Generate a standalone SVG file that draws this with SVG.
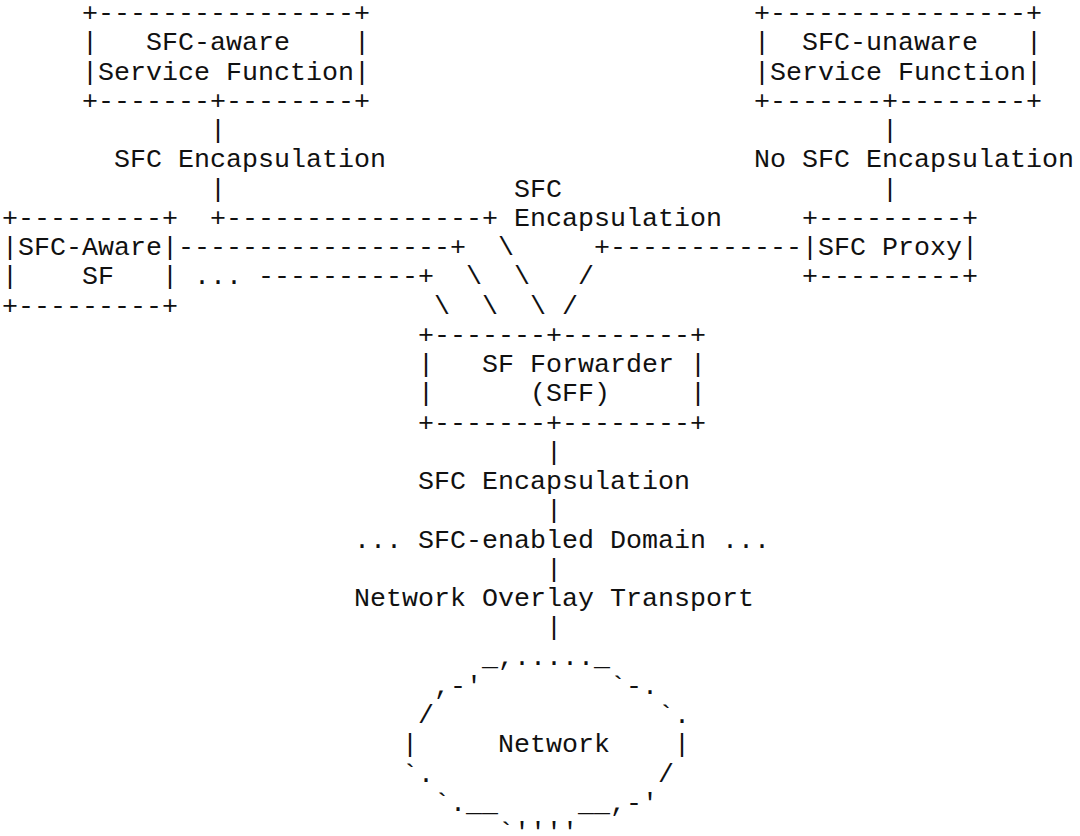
<svg xmlns="http://www.w3.org/2000/svg" width="1080" height="836" viewBox="0 0 1080 836" xml:space="preserve">
<style>
text { font-family: "Liberation Mono", "Courier New", monospace; font-size: 26.667px; fill: #111; white-space: pre; }
</style>
<rect width="1080" height="836" fill="#fff"/>
<g id="sfc-aware-service-function">
<text x="82" y="21">+----------------+</text>
<text x="82" y="50.25">|   SFC-aware    |</text>
<text x="82" y="79.5">|Service Function|</text>
<text x="82" y="108.75">+-------+--------+</text>
</g>
<g id="sfc-unaware-service-function">
<text x="754" y="21">+----------------+</text>
<text x="754" y="50.25">|  SFC-unaware   |</text>
<text x="754" y="79.5">|Service Function|</text>
<text x="754" y="108.75">+-------+--------+</text>
</g>
<g id="sfc-aware-sf">
<text x="2" y="225.75">+---------+</text>
<text x="2" y="255">|SFC-Aware|</text>
<text x="2" y="284.25">|    SF   |</text>
<text x="2" y="313.5">+---------+</text>
</g>
<g id="sfc-proxy">
<text x="802" y="225.75">+---------+</text>
<text x="802" y="255">|SFC Proxy|</text>
<text x="802" y="284.25">+---------+</text>
</g>
<g id="sff">
<text x="418" y="342.75">+-------+--------+</text>
<text x="418" y="372">|   SF Forwarder |</text>
<text x="418" y="401.25">|      (SFF)     |</text>
<text x="418" y="430.5">+-------+--------+</text>
</g>
<g id="network">
<text x="482" y="664.5">_,....._</text>
<text x="434" y="693.75">,-'</text>
<text x="610" y="693.75">`-.</text>
<text x="418" y="723">/</text>
<text x="658" y="723">`.</text>
<text x="402" y="752.25">|</text>
<text x="498" y="752.25">Network</text>
<text x="674" y="752.25">|</text>
<text x="402" y="781.5">`.</text>
<text x="658" y="781.5">/</text>
<text x="434" y="810.75">`.__</text>
<text x="578" y="810.75">__,-'</text>
<text x="498" y="840">`''''</text>
</g>
<g id="connectors">
<text x="210" y="138">|</text>
<text x="882" y="138">|</text>
<text x="114" y="167.25">SFC Encapsulation</text>
<text x="754" y="167.25">No SFC Encapsulation</text>
<text x="210" y="196.5">|</text>
<text x="514" y="196.5">SFC</text>
<text x="882" y="196.5">|</text>
<text x="210" y="225.75">+----------------+</text>
<text x="514" y="225.75">Encapsulation</text>
<text x="178" y="255">-----------------+</text>
<text x="498" y="255">\</text>
<text x="594" y="255">+------------</text>
<text x="194" y="284.25">...</text>
<text x="258" y="284.25">----------+</text>
<text x="466" y="284.25">\</text>
<text x="514" y="284.25">\</text>
<text x="578" y="284.25">/</text>
<text x="434" y="313.5">\</text>
<text x="482" y="313.5">\</text>
<text x="530" y="313.5">\</text>
<text x="562" y="313.5">/</text>
<text x="546" y="459.75">|</text>
<text x="418" y="489">SFC Encapsulation</text>
<text x="546" y="518.25">|</text>
<text x="354" y="547.5">... SFC-enabled Domain ...</text>
<text x="546" y="576.75">|</text>
<text x="354" y="606">Network Overlay Transport</text>
<text x="546" y="635.25">|</text>
</g>
</svg>
